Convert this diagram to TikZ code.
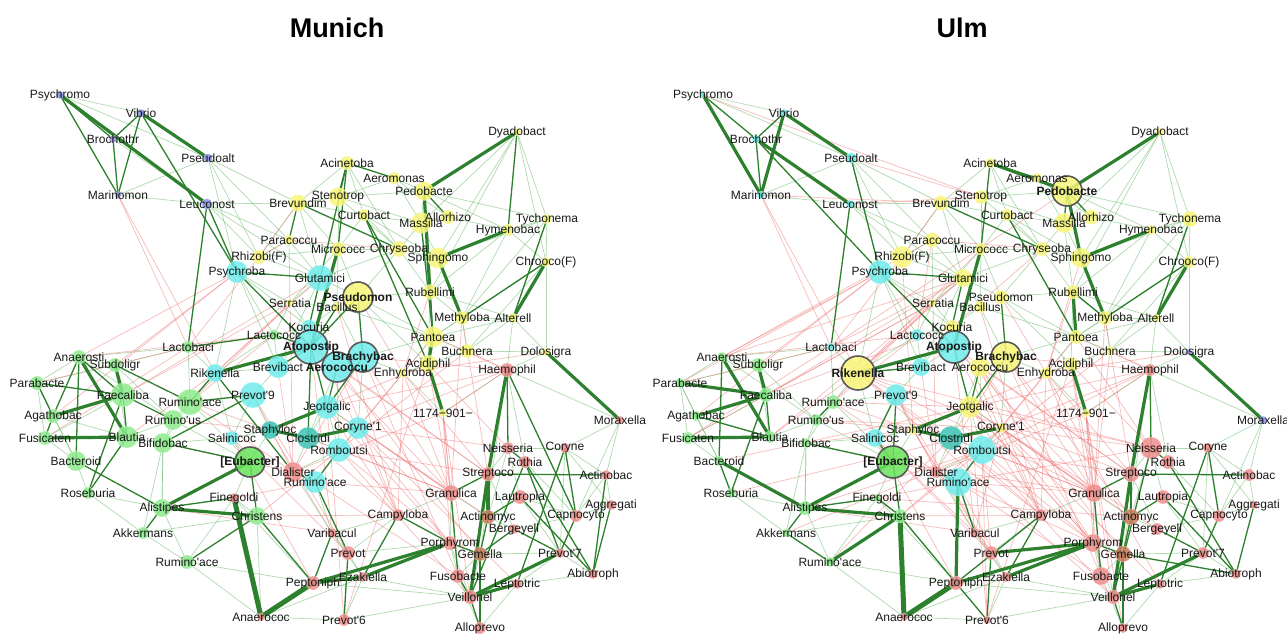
\documentclass[tikz,border=0pt]{standalone}
\usepackage{fontspec}
\setmainfont{Liberation Sans}
\pgfdeclarelayer{bg}
\pgfdeclarelayer{fg}
\pgfsetlayers{bg,main,fg}
\definecolor{cY}{RGB}{248,246,120}
\definecolor{cC}{RGB}{112,236,236}
\definecolor{cG}{RGB}{142,236,142}
\definecolor{cGE}{RGB}{105,228,90}
\definecolor{cR}{RGB}{240,142,142}
\definecolor{cP}{RGB}{150,150,238}
\definecolor{cT}{RGB}{60,195,180}
\definecolor{cBr}{RGB}{205,125,95}
\definecolor{cE}{RGB}{45,128,45}
\definecolor{cL}{RGB}{110,190,110}
\definecolor{cK}{RGB}{240,120,120}
\newcommand\apo{\textquotesingle}
\tikzset{
  nd/.style={circle,inner sep=0pt,fill opacity=0.85,draw=white,draw opacity=0.5,line width=0.4pt},
  bigo/.style={draw=black!65,draw opacity=1,line width=1.6pt},
  nY/.style={fill=cY}, nYB/.style={fill=cY,bigo},
  nC/.style={fill=cC}, nCB/.style={fill=cC,bigo},
  nG/.style={fill=cG}, nGB/.style={fill=cGE,bigo},
  nR/.style={fill=cR}, nP/.style={fill=cP}, nT/.style={fill=cT}, nBr/.style={fill=cBr},
  lbl/.style={font=\fontsize{12}{12}\selectfont,text=black!90,inner sep=0pt},
  ttl/.style={font=\fontsize{27}{27}\selectfont\bfseries,text=black},
  EX/.style={draw=cE,line width=5pt,line cap=round},
  ET/.style={draw=cE,line width=3.2pt,line cap=round},
  EM/.style={draw=cE,line width=1.3pt},
  EL/.style={draw=cL,line width=0.7pt,draw opacity=0.55},
  EP/.style={draw=cK,line width=0.7pt,draw opacity=0.5}
}
\newcommand\placenodes[2]{%
  \foreach \i/\x/\y/\s/\d/\t in #2 {%
    \node[nd,\s,minimum size=\d pt] (#1\i) at (\x,\y) {};
    \begin{pgfonlayer}{fg}\node[lbl] at (#1\i.center) {\t};\end{pgfonlayer}
  }}
\newcommand\drawedges[3]{%
  \begin{pgfonlayer}{bg}
  \foreach \a/\b in #3 {\draw[#2] (#1\a.center) -- (#1\b.center);}
  \end{pgfonlayer}}
\def\MunichNodes{psy/60/95/nP/8/Psychromo,
vib/141/113/nP/8/Vibrio,
bro/113/139/nP/8/Brochothr,
pal/208/158/nP/9/Pseudoalt,
mar/118/195/nP/7/Marinomon,
leu/207/204/nP/11/Leuconost,
brv/298/203/nY/17/Brevundim,
par/289/240/nY/10/Paracoccu,
rhz/259/257/nY/14/Rhizobi(F),
pba/237/272/nC/22/Psychroba,
dya/517/132/nY/8/Dyadobact,
aci/347/163/nY/14/Acinetoba,
aer/394/178/nY/12/Aeromonas,
ped/424/191/nY/19/Pedobacte,
ste/338/197/nY/19/Stenotrop,
cur/364/215/nY/12/Curtobact,
mas/421/223/nY/21/Massilia,
all/448/217/nY/14/Allorhizo,
tyc/547/219/nY/10/Tychonema,
hym/508/230/nY/12/Hymenobac,
mic/338/249/nY/14/Micrococc,
chr/399/249/nY/16/Chryseoba,
sph/438/258/nY/21/Sphingomo,
cro/546/262/nY/10/Chrooco(F),
glu/320/278/nC/26/Glutamici,
pse/358/297/nYB/30/{\bfseries Pseudomon},
bac/337/307/nY/10/Bacillus,
ser/290/303/nY/8/Serratia,
rub/430/292/nY/15/Rubellimi,
koc/309/327/nC/15/Kocuria,
lcc/274/335/nG/11/Lactococc,
met/462/318/nY/14/Methyloba,
alt/513/318/nY/10/Alterell,
pan/433/337/nY/21/Pantoea,
buc/467/351/nY/14/Buchnera,
dol/546/352/nY/8/Dolosigra,
acd/428/364/nY/18/Acidiphil,
enh/403/373/nY/10/Enhydroba,
hae/507/370/nR/14/Haemophil,
tno/443/413/nY/8/1174−901−,
mor/620/420/nR/8/Moraxella,
ato/311/347/nCB/34/{\bfseries Atopostip},
bra/363/357/nCB/30/{\bfseries Brachybac},
aec/337/367/nCB/30/{\bfseries Aerococcu},
brb/278/367/nC/22/Brevibact,
rik/215/373/nC/18/Rikenella,
pv9/253/395/nC/26/Prevot\apo 9,
jeo/327/407/nC/24/Jeotgalic,
co1/358/428/nC/22/Coryne\apo 1,
sta/270/430/nT/18/Staphyloc,
clo/308/438/nT/22/Clostridi,
sal/232/438/nC/14/Salinicoc,
rom/339/450/nC/24/Romboutsi,
eub/250/462/nGB/30/{\bfseries [Eubacter]},
dia/293/472/nR/20/Dialister,
rc/315/482/nC/22/Rumino\apo ace,
lcb/188/347/nG/12/Lactobaci,
ans/79/357/nG/14/Anaerosti,
sub/115/365/nG/14/Subdoligr,
pab/37/383/nG/14/Parabacte,
fae/123/395/nG/24/Faecaliba,
rg1/190/402/nG/26/Rumino\apo ace,
aga/53/416/nG/14/Agathobac,
rus/173/420/nG/20/Rumino\apo us,
fus/45/438/nG/14/Fusicaten,
bla/127/437/nG/22/Blautia,
bif/163/443/nG/20/Bifidobac,
bct/76/461/nG/20/Bacteroid,
ros/88/493/nG/12/Roseburia,
ali/162/508/nG/18/Alistipes,
akk/143/533/nG/12/Akkermans,
rg2/187/562/nG/14/Rumino\apo ace,
chs/257/516/nG/18/Christens,
fin/234/498/nR/10/Finegoldi,
anc/261/617/nR/8/Anaerococ,
pep/313/583/nR/14/Peptoniph,
nei/508/448/nR/12/Neisseria,
cor/565/448/nR/10/Coryne,
rot/525/462/nR/12/Rothia,
str/488/474/nR/14/Streptoco,
acb/606/475/nR/10/Actinobac,
gra/451/493/nR/16/Granulica,
lau/520/497/nR/14/Lautropia,
agg/611/505/nR/10/Aggregati,
cam/398/515/nR/12/Campyloba,
acm/488/517/nBr/14/Actinomyc,
cap/576/516/nR/12/Capnocyto,
ber/514/529/nR/10/Bergeyell,
var/332/533/nR/10/Varibacul,
por/450/543/nR/14/Porphyrom,
prv/348/553/nR/14/Prevot,
gem/480/554/nBr/14/Gemella,
pv7/560/553/nR/10/Prevot\apo 7,
abi/593/574/nR/10/Abiotroph,
eza/363/577/nR/10/Ezakiella,
fuo/458/576/nR/14/Fusobacte,
lep/517/584/nR/10/Leptotric,
vei/470/597/nR/14/Veillonel,
pv6/344/620/nR/12/Prevot\apo 6,
alp/480/628/nR/12/Alloprevo}
\def\UlmNodes{psy/60/95/nC/6/Psychromo,
vib/141/113/nC/8/Vibrio,
bro/113/139/nC/8/Brochothr,
pal/208/158/nC/11/Pseudoalt,
mar/118/195/nC/8/Marinomon,
leu/207/204/nC/8/Leuconost,
brv/298/203/nY/15/Brevundim,
par/289/240/nY/15/Paracoccu,
rhz/259/257/nY/22/Rhizobi(F),
pba/237/272/nC/24/Psychroba,
dya/517/132/nY/8/Dyadobact,
aci/347/163/nY/10/Acinetoba,
aer/394/178/nY/10/Aeromonas,
ped/424/191/nYB/30/{\bfseries Pedobacte},
ste/338/197/nY/14/Stenotrop,
cur/364/215/nY/12/Curtobact,
mas/421/223/nY/20/Massilia,
all/448/217/nY/15/Allorhizo,
tyc/547/219/nY/16/Tychonema,
hym/508/230/nY/10/Hymenobac,
mic/338/249/nY/12/Micrococc,
chr/399/249/nY/14/Chryseoba,
sph/438/258/nY/20/Sphingomo,
cro/546/262/nY/12/Chrooco(F),
glu/320/278/nY/18/Glutamici,
pse/358/297/nY/14/Pseudomon,
bac/337/307/nY/12/Bacillus,
ser/290/303/nY/7/Serratia,
rub/430/292/nY/14/Rubellimi,
koc/309/327/nY/14/Kocuria,
lcc/274/335/nC/12/Lactococc,
met/462/318/nY/14/Methyloba,
alt/513/318/nY/8/Alterell,
pan/433/337/nY/14/Pantoea,
buc/467/351/nY/10/Buchnera,
dol/546/352/nP/6/Dolosigra,
acd/428/364/nY/14/Acidiphil,
enh/403/373/nY/12/Enhydroba,
hae/507/370/nR/12/Haemophil,
tno/443/413/nY/8/1174−901−,
mor/620/420/nP/8/Moraxella,
ato/311/347/nCB/32/{\bfseries Atopostip},
bra/363/357/nYB/30/{\bfseries Brachybac},
aec/337/367/nY/20/Aerococcu,
brb/278/367/nC/18/Brevibact,
rik/215/373/nYB/34/{\bfseries Rikenella},
pv9/253/395/nC/22/Prevot\apo 9,
jeo/327/407/nY/22/Jeotgalic,
co1/358/428/nY/10/Coryne\apo 1,
sta/270/430/nY/10/Staphyloc,
clo/308/438/nT/24/Clostridi,
sal/232/438/nC/18/Salinicoc,
rom/339/450/nC/28/Romboutsi,
eub/250/462/nGB/32/{\bfseries [Eubacter]},
dia/293/472/nR/12/Dialister,
rc/315/482/nC/28/Rumino\apo ace,
lcb/188/347/nC/8/Lactobaci,
ans/79/357/nG/10/Anaerosti,
sub/115/365/nG/14/Subdoligr,
pab/37/383/nG/10/Parabacte,
fae/123/395/nG/14/Faecaliba,
rg1/190/402/nG/14/Rumino\apo ace,
aga/53/416/nG/10/Agathobac,
rus/173/420/nG/12/Rumino\apo us,
fus/45/438/nG/12/Fusicaten,
bla/127/437/nG/12/Blautia,
bif/163/443/nG/10/Bifidobac,
bct/76/461/nG/10/Bacteroid,
ros/88/493/nG/10/Roseburia,
ali/162/508/nG/14/Alistipes,
akk/143/533/nG/8/Akkermans,
rg2/187/562/nG/10/Rumino\apo ace,
chs/257/516/nG/14/Christens,
fin/234/498/nG/8/Finegoldi,
anc/261/617/nR/8/Anaerococ,
pep/313/583/nR/14/Peptoniph,
nei/508/448/nR/22/Neisseria,
cor/565/448/nR/10/Coryne,
rot/525/462/nR/14/Rothia,
str/488/474/nR/16/Streptoco,
acb/606/475/nR/12/Actinobac,
gra/451/493/nR/18/Granulica,
lau/520/497/nR/14/Lautropia,
agg/611/505/nR/8/Aggregati,
cam/398/515/nR/12/Campyloba,
acm/488/517/nBr/16/Actinomyc,
cap/576/516/nR/12/Capnocyto,
ber/514/529/nR/12/Bergeyell,
var/332/533/nR/10/Varibacul,
por/450/543/nR/18/Porphyrom,
prv/348/553/nR/14/Prevot,
gem/480/554/nBr/16/Gemella,
pv7/560/553/nR/12/Prevot\apo 7,
abi/593/574/nR/10/Abiotroph,
eza/363/577/nR/10/Ezakiella,
fuo/458/576/nR/18/Fusobacte,
lep/517/584/nR/10/Leptotric,
vei/470/597/nR/14/Veillonel,
pv6/344/620/nR/8/Prevot\apo 6,
alp/480/628/nR/10/Alloprevo}
% ---------- edges ----------
\def\listL{psy/vib,psy/pal,bro/leu,mar/leu,mar/pal,pal/rhz,pal/brv,pal/par,pal/pba,leu/brv,leu/rhz,leu/par,leu/glu,brv/ste,brv/cur,brv/mic,brv/glu,brv/rhz,brv/aci,par/mic,par/rhz,par/glu,par/ser,rhz/glu,rhz/mic,ste/aer,ste/ped,ste/mas,ste/chr,ste/mic,cur/chr,cur/mas,cur/sph,cur/mic,aer/ped,aer/mas,aer/all,ped/mas,ped/hym,ped/tyc,dya/tyc,dya/sph,dya/cro,dya/mas,hym/tyc,hym/cro,hym/rub,hym/all,tyc/cro,tyc/sph,mas/sph,mas/chr,mas/all,mas/rub,chr/sph,chr/rub,chr/pse,chr/glu,mic/chr,mic/ser,mic/bac,mic/pse,glu/ser,glu/pse,glu/bac,glu/brb,ser/bac,ser/koc,bac/koc,bac/pan,pse/rub,pse/pan,pse/acd,rub/met,rub/alt,rub/acd,met/pan,met/buc,met/alt,alt/buc,alt/pan,alt/hae,pan/buc,pan/enh,pan/bra,buc/acd,enh/acd,enh/bra,enh/tno,buc/dol,hae/dol,dol/alt,dol/cro,hae/mor,cor/mor,acb/mor,koc/ato,koc/lcc,lcc/brb,lcc/rik,brb/rik,brb/pv9,pv9/sal,sal/sta,sal/eub,jeo/clo,jeo/rom,jeo/co1,co1/rom,clo/rom,sta/pv9,pba/ser,pba/koc,pba/lcc,pba/rik,pba/brb,rik/sal,rik/rg1,lcb/rik,lcb/rg1,lcb/sub,lcb/ans,ans/sub,ans/pab,ans/rus,sub/bla,sub/rus,sub/pab,pab/fus,pab/bct,aga/bla,aga/bct,fus/bct,fus/fae,bla/bif,bla/rus,rus/bif,rus/rg1,rg1/bif,bif/ali,bct/ros,ros/ali,ros/akk,akk/rg2,ali/rg2,ali/bif,eub/fin,fin/chs,chs/anc,fin/pep,rg2/anc,akk/chs,rg1/eub,rus/eub,nei/str,nei/acm,nei/lau,cor/acb,cor/agg,acb/agg,acb/cap,agg/cap,lau/cap,ber/cap,acm/ber,gem/pv7,por/fuo,gem/fuo,lep/alp,lep/pv7,abi/pv7,abi/lep,gra/acm,gra/por,cam/var,var/prv,prv/eza,eza/pv6,anc/pv6,prv/por,cam/prv,hae/rot,hae/gem,rot/cap,nei/cor,cor/pv7,lau/pv7,str/ber,acm/vei,por/vei,fuo/alp,pep/vei,eza/vei,pv6/vei,rg2/pep,anc/eza,var/eza,cam/gra,tno/hae,mor/cap,tyc/alt,cro/buc,hym/met,aci/cur,aci/chr,ser/lcc,bac/bra,koc/brb,rom/dia,dia/var,rc/var,clo/dia,sta/eub,sal/bif,pv9/rg1,co1/clo,aec/rom,bra/co1,ato/brb,aec/clo,dya/rub,tyc/met,cro/pan,rg2/fin,akk/bif,pab/aga}
\def\listMP{mar/lcb,mar/rik,brv/rhz,rhz/par,par/chr,pba/ans,pba/sub,lcb/pab,rhz/lcb,ser/fae,ser/rg1,lcc/rg1,ser/rik,glu/rik,ato/gra,ato/str,bra/gra,bra/dia,aec/cam,aec/str,jeo/gra,jeo/cam,jeo/por,co1/gra,co1/por,co1/nei,co1/lep,clo/cam,clo/gra,rom/gra,rom/por,rom/str,rc/gra,rc/fuo,sta/var,sal/prv,pv9/dia,brb/dia,enh/gra,enh/str,enh/cam,acd/nei,acd/gra,pan/hae,buc/hae,tno/gra,tno/por,met/str,tno/dia,rub/enh,pse/enh,bif/dia,rg1/dia,rus/sta,ali/var,chs/cam,fin/rc,chs/rom,hae/jeo,hae/co1,bra/fuo,aec/gem,ato/var,koc/cam,lcc/ans,lcb/fus,pba/aga,glu/fae,rik/bla,rg1/sta,pv9/prv,sal/pep,jeo/pv6,rom/vei,co1/acm,enh/rom,acd/sta,pan/co1,met/gra,tno/fuo,tno/vei,acd/pv6,buc/rom,hae/bra,hae/tno,dol/enh,bac/cam,ser/dia}
\def\listUP{pal/ste,mar/brv,rik/gra,rik/cam,rik/str,rik/nei,lcb/glu,ans/rhz,pab/pba,fus/ser,rg1/jeo,rus/co1,bif/sta,bla/glu,ali/rom,chs/co1,eub/gra,fin/acm,dia/por,rc/nei,rom/hae,jeo/nei,co1/ber,sta/prv,sal/var,eza/rc,prv/rom,pv6/rom,var/co1,cam/ato,por/jeo,acd/fuo,enh/lep,tno/alp,buc/gra,pan/nei,bra/acm,aec/por,sph/enh,chr/koc,mic/rik,par/lcc,rhz/sta,psy/ste,leu/ste,rik/por,rik/vei,lcb/ped,ans/glu,fae/koc,bct/jeo,ros/co1,akk/rom,rg2/clo}
\def\listMX{fin/anc,anc/pep}
\def\listMT{psy/leu,vib/pal,dya/ped,sph/hym,sph/met,sub/fae,ans/bla,aga/fae,fus/bla,jeo/sta,clo/co1,dol/mor,cro/alt,acd/tno,rik/ato,mic/ato,ali/eub,ali/chs,vei/pv7,vei/lep,str/acm,hae/str,ped/rub,pep/por,eza/por,pep/eza,str/vei,sta/clo,pan/acd}
\def\listMM{psy/bro,psy/mar,vib/bro,vib/mar,bro/mar,vib/pba,leu/lcb,leu/pba,aci/aer,aci/mic,aci/ste,aci/koc,ped/all,ped/pan,brv/chr,brv/par,cur/pan,cur/acd,dya/hym,cro/met,tyc/alt,pba/glu,pba/ato,pse/bra,pse/ato,bac/ato,rub/pan,mas/pan,hae/nei,hae/cap,lcb/lcc,lcc/ato,brb/ato,rik/dia,ato/jeo,ato/clo,aec/jeo,bra/jeo,rom/rc,pv9/rg1,pv9/bif,ans/bct,ans/aga,ans/fae,fae/bla,sub/rg1,fae/rus,bla/ros,bct/ali,ros/fae,pab/aga,pab/fae,aga/fus,bif/eub,eub/chs,ali/akk,ali/fin,chs/rg2,chs/pep,rc/prv,prv/pv6,var/pep,cam/eza,cam/por,gra/str,gra/fuo,str/acb,rot/vei,lau/acm,lau/abi,cor/cap,cor/lep,acb/abi,agg/abi,cap/pv7,gem/ber,por/gem,fuo/vei,vei/alp,gem/alp,acm/gem,nei/rot,rot/abi,rot/pv7,ber/pv7,rc/dia,rik/rg1}
\def\listUX{anc/pep,chs/anc}
\def\listUT{psy/mar,vib/mar,vib/pal,bro/leu,dya/ped,aci/ped,sph/hym,sph/met,ped/sph,cro/alt,mic/ato,rik/ato,jeo/sta,clo/co1,acd/tno,dol/mor,hae/str,str/vei,vei/pv7,vei/lep,ali/eub,ali/chs,bct/ali,pep/por,prv/por,eza/por,rc/pep,rg2/chs,sub/fae,ans/bla,fus/bla,aga/fae,pab/fae,pan/rub,sta/clo}
\def\listUM{psy/bro,vib/bro,bro/mar,pal/pba,leu/lcb,bro/pba,aci/mic,aci/aer,brv/chr,cur/pan,ped/all,ped/mas,tyc/alt,cro/met,pba/ato,pba/glu,glu/koc,pse/bra,rub/met,rik/brb,ato/jeo,bra/jeo,aec/jeo,rom/rc,rc/dia,pv9/sal,pv9/eub,sal/eub,eub/bif,rg1/rus,fae/bla,fae/ros,ans/bct,aga/bla,bct/ros,ali/akk,ali/fin,chs/pep,fin/chs,eub/chs,prv/pv6,cam/pep,cam/eza,pep/pv6,gra/str,gra/fuo,hae/nei,nei/rot,str/acm,lau/acm,lau/abi,rot/abi,cor/cap,cor/lep,cap/pv7,agg/abi,gem/alp,vei/alp,por/gem,ber/pv7,acm/gem,gem/abi,str/acb,nei/vei,akk/rg2,rc/var}
\begin{document}
\begin{tikzpicture}[x=1pt,y=-1pt]
\begin{pgfonlayer}{bg}
\fill[white] (0,0) rectangle (1287,637);
\end{pgfonlayer}
\useasboundingbox (0,0) rectangle (1287,637);
\node[ttl] (tM) at (337,28) {Munich};
\node[ttl] (tU) at (962,28) {Ulm};
% Munich
\placenodes{m}{\MunichNodes}
\drawedges{m}{EL}{\listL}
\drawedges{m}{EP}{\listMP}
\drawedges{m}{EM}{\listMM}
\drawedges{m}{ET}{\listMT}
\drawedges{m}{EX}{\listMX}
% Ulm
\begin{scope}[xshift=643pt]
\placenodes{u}{\UlmNodes}
\end{scope}
\drawedges{u}{EL}{\listL}
\drawedges{u}{EP}{\listMP}
\drawedges{u}{EP}{\listUP}
\drawedges{u}{EM}{\listUM}
\drawedges{u}{ET}{\listUT}
\drawedges{u}{EX}{\listUX}
\end{tikzpicture}
\end{document}
